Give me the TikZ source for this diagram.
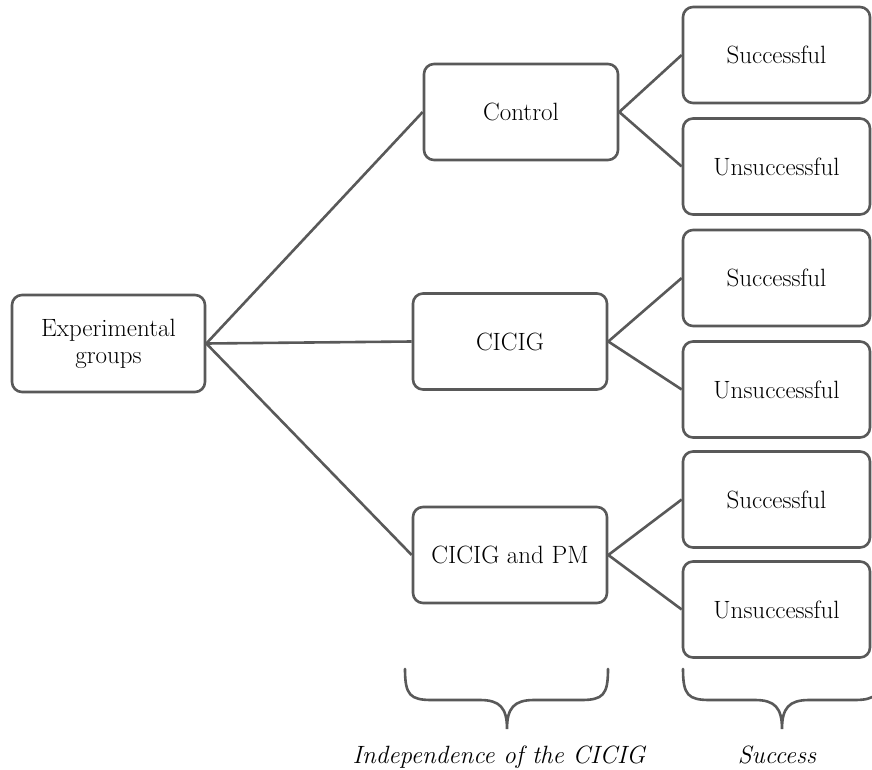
\documentclass[tikz,border=0pt]{standalone}
\begin{document}
\begin{tikzpicture}[x=1pt,y=-1pt,
  line color/.style={draw=black!65},
  box/.style={rectangle, rounded corners=10pt, line color, line width=2.6pt, fill=white,
    font=\fontsize{25}{27}\selectfont, align=center, inner sep=0pt, minimum height=96pt},
  grp/.style={box, minimum width=194pt},
  outc/.style={box, minimum width=187pt},
  conn/.style={line color, line width=2.6pt},
  brace/.style={line color, line width=2.6pt, line cap=round},
  lab/.style={font=\fontsize{25}{27}\selectfont\itshape, anchor=base}]
\useasboundingbox (0,0) rectangle (872,770);
\node[box, minimum width=193pt, minimum height=97pt] (exp) at (108.5,343.5) {Experimental\\groups};
\node[grp] (ctl) at (521,112) {Control};
\node[grp] (cic) at (510,341.5) {CICIG};
\node[grp] (cpm) at (510,555) {CICIG and PM};
\node[outc] (s1) at (776.5,55) {Successful};
\node[outc] (u1) at (776.5,166.5) {Unsuccessful};
\node[outc] (s2) at (776.5,278) {Successful};
\node[outc] (u2) at (776.5,389.5) {Unsuccessful};
\node[outc] (s3) at (776.5,499.5) {Successful};
\node[outc] (u3) at (776.5,609.5) {Unsuccessful};
\draw[conn] (exp.east) -- (ctl.west);
\draw[conn] (exp.east) -- (cic.west);
\draw[conn] (exp.east) -- (cpm.west);
\draw[conn] (ctl.east) -- (s1.west);
\draw[conn] (ctl.east) -- (u1.west);
\draw[conn] (cic.east) -- (s2.west);
\draw[conn] (cic.east) -- (u2.west);
\draw[conn] (cpm.east) -- (s3.west);
\draw[conn] (cpm.east) -- (u3.west);
% braces
\draw[brace] (405,669) .. controls (405,695) and (410,700) .. (432,700) -- (480,700)
  .. controls (500,700) and (507,708) .. (507,729)
  .. controls (507,708) and (514,700) .. (534,700) -- (581,700)
  .. controls (603,700) and (608,695) .. (608,669);
\draw[brace] (683,669) .. controls (683,695) and (688,700) .. (710,700) -- (755,700)
  .. controls (775,700) and (782,708) .. (782,729)
  .. controls (782,708) and (789,700) .. (809,700) -- (854,700)
  .. controls (876,700) and (881,695) .. (881,669);
\node[lab] (l1) at (499,763) {Independence of the CICIG};
\node[lab] (l2) at (777,763) {Success};
\end{tikzpicture}
\end{document}
